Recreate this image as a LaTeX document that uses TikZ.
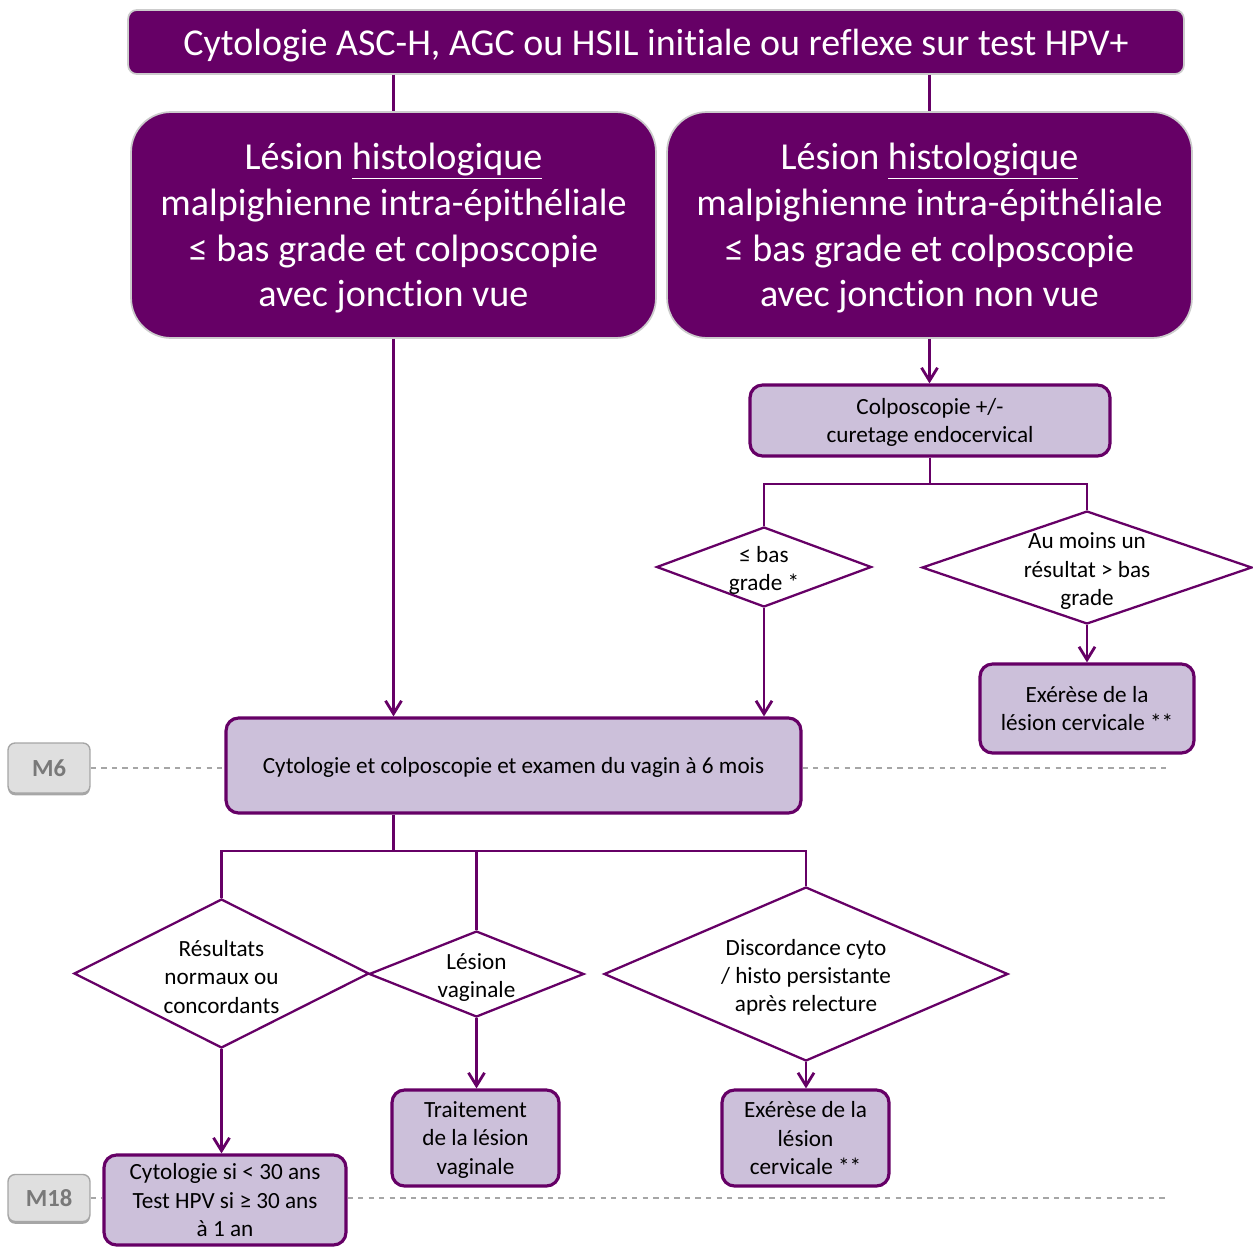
\documentclass[tikz,border=0pt]{standalone}
\usepackage{fontspec}
\setmainfont{Carlito}[Ligatures=NoCommon]
\usepackage{tikz}
\usetikzlibrary{arrows.meta}
\usetikzlibrary{shapes.geometric}
\usetikzlibrary{shadows}
\definecolor{prune}{HTML}{660066}
\definecolor{lilas}{HTML}{CCC0DA}

\begin{document}
\begin{tikzpicture}[x=0.02cm,y=-0.02cm,
		titre/.style={rectangle,rounded corners=5pt,fill=prune,draw=gray!40,line width=1pt,text=white,text depth=0pt,font=\fontsize{21.6}{26}\selectfont},
		grand/.style={rectangle,rounded corners=0.8cm,fill=prune,draw=gray!40,line width=1pt,text=white,text depth=0pt,align=center,font=\fontsize{21.7}{26}\selectfont,minimum width=10.5cm,minimum height=4.52cm},
		boite/.style={rectangle,rounded corners=0.25cm,fill=lilas,draw=prune,line width=1.8pt,text depth=0pt,align=center,font=\fontsize{13.2}{16}\selectfont},
		losange/.style={diamond,draw=prune,line width=1.3pt,inner sep=0pt},
		texte/.style={align=center,font=\fontsize{13.2}{16}\selectfont,yshift=-2pt},
		mois/.style={rectangle,rounded corners=4pt,fill=gray!25,draw=gray!70,line width=0.8pt,text=gray!95!black,font=\fontsize{14}{16}\selectfont\bfseries,minimum width=1.64cm,drop shadow={shadow xshift=0pt,shadow yshift=-1.3pt,fill=gray!70,opacity=1}},
		trait/.style={prune,line width=1.6pt},
		pointe/.style={-{Straight Barb[length=2.6mm,width=3.2mm]}},
		tiret/.style={gray!70,dashed,line width=0.7pt}]
	\useasboundingbox (0,0) rectangle (1253,1247);
			\node [titre,minimum width=21.12cm,minimum height=1.28cm] (haut) at (656,42) {Cytologie ASC-H, AGC ou HSIL initiale ou reflexe sur test HPV+};
			\node [grand] (gauche) at (393.5,225) {Lésion \underline{histologique}\\malpighienne intra-épithéliale\\≤ bas grade et colposcopie\\avec jonction vue};
			\node [grand] (droite) at (929.5,225) {Lésion \underline{histologique}\\malpighienne intra-épithéliale\\≤ bas grade et colposcopie\\avec jonction non vue};
			\node [boite,minimum width=7.2cm,minimum height=1.42cm] (colpo) at (930,420.5) {Colposcopie +/-\\curetage endocervical};
			\node [losange,minimum width=4.3cm,minimum height=1.6cm,label={[texte]center:{≤ bas\\grade *}}] (bas) at (764,567) {};
			\node [losange,minimum width=6.6cm,minimum height=2.26cm,label={[texte]center:{Au moins un\\résultat > bas\\grade}}] (sup) at (1087,567.5) {};
			\node [boite,minimum width=4.28cm,minimum height=1.78cm] (exe1) at (1087,708.5) {Exérèse de la\\lésion cervicale **};
			\node [boite,minimum width=11.5cm,minimum height=1.9cm] (six) at (513.5,765.5) {Cytologie et colposcopie et examen du vagin à 6 mois};
			\node [mois,minimum height=1cm] (m6) at (49,768) {M6};
			\node [losange,minimum width=5.9cm,minimum height=2.98cm,label={[texte]center:{Résultats\\normaux ou\\concordants}}] (normal) at (221.5,973.5) {};
			\node [losange,minimum width=4.3cm,minimum height=1.72cm,label={[texte]center:{Lésion\\vaginale}}] (vagin) at (476.5,974) {};
			\node [losange,minimum width=8.08cm,minimum height=3.48cm,label={[texte]center:{Discordance cyto\\/ histo persistante\\après relecture}}] (discord) at (806,974) {};
			\node [boite,minimum width=3.34cm,minimum height=1.92cm] (soin) at (475.5,1138) {Traitement\\de la lésion\\vaginale};
			\node [boite,minimum width=3.34cm,minimum height=1.92cm] (exe2) at (805.5,1138) {Exérèse de la\\lésion\\cervicale **};
			\node [boite,minimum width=4.84cm,minimum height=1.8cm] (suivi) at (225,1200) {Cytologie si < 30 ans\\Test HPV si ≥ 30 ans\\à 1 an};
			\node [mois,minimum height=0.94cm] (m18) at (49,1198) {M18};
			\coordinate (f1) at (930,484);
			\coordinate (f2) at (393.5,851);
			\coordinate (fin6) at (1166,768);
			\coordinate (fin18) at (1166,1198);
			% traits sans fleche
			\draw [trait] (gauche.north |- haut.south) -- (gauche.north);
			\draw [trait] (droite.north |- haut.south) -- (droite.north);
			\draw [trait] (colpo.south) -- (f1);
			\draw [trait] (bas.north) -- (bas.north |- f1) -- (sup.north |- f1) -- (sup.north);
			\draw [trait] (f2 |- six.south) -- (f2);
			\draw [trait] (normal.north) -- (normal.north |- f2) -- (discord.north |- f2) -- (discord.north);
			\draw [trait] (vagin.north |- f2) -- (vagin.north);
			% fleches
			\foreach \from/\to in {gauche/six, droite/colpo, bas/six, sup/exe1, normal/suivi, vagin/soin, discord/exe2}
				\draw [trait,pointe] (\from.south) -- (\from.south |- \to.north);
			% reperes
			\draw [tiret] (m6) -- (m6 -| six.west);
			\draw [tiret] (six.east |- fin6) -- (fin6);
			\draw [tiret] (m18) -- (m18 -| suivi.west);
			\draw [tiret] (suivi.east |- fin18) -- (fin18);
		\end{tikzpicture}
\end{document}
